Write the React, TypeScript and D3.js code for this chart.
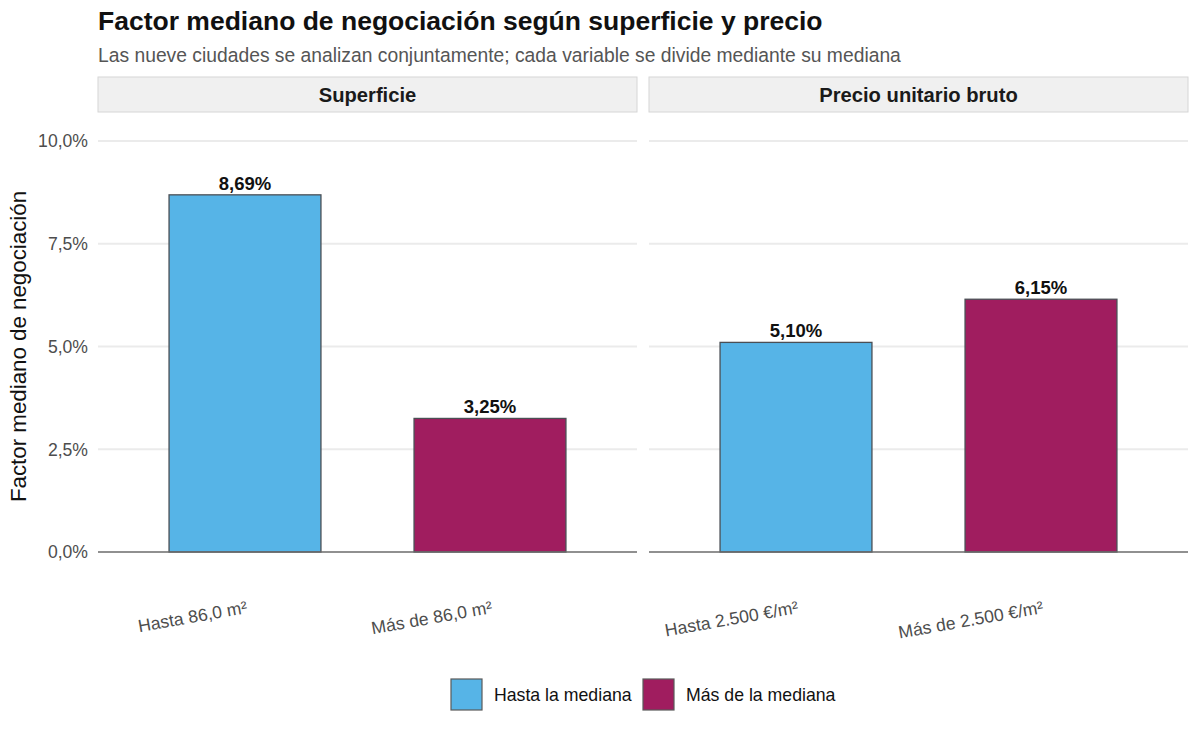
import React from "react";
import * as d3 from "d3";

// data
const facets = ["Superficie", "Precio unitario bruto"];
const categories = [
  ["Hasta 86,0 m²", "Más de 86,0 m²"],
  ["Hasta 2.500 €/m²", "Más de 2.500 €/m²"],
];
const values = [
  [8.69, 3.25],
  [5.1, 6.15],
];
const groups = ["Hasta la mediana", "Más de la mediana"];
const groupColors = ["#56B4E7", "#A01D5F"];
const yTicks = [0, 2.5, 5, 7.5, 10];

const width = 1200;
const height = 733;
const font = "'Liberation Sans', Arial, Helvetica, sans-serif";
const panels = [
  [98, 637],
  [649, 1188],
];

const fmt = (v: number, d: number) => v.toFixed(d).replace(".", ",");

export default function App() {
  const y = d3.scaleLinear().domain([0, 10]).range([552, 141]);
  const color = d3.scaleOrdinal<string>().domain(groups).range(groupColors);

  return (
    <svg
      width={width}
      height={height}
      style={{ position: "absolute", left: 0, top: 0, background: "#fff" }}
      fontFamily={font}
    >
      <text x={98} y={30} fontSize={26.5} fontWeight="bold" fill="#111">
        Factor mediano de negociación según superficie y precio
      </text>
      <text x={98} y={62} fontSize={19.3} fill="#555">
        Las nueve ciudades se analizan conjuntamente; cada variable se divide mediante su mediana
      </text>

      {/* y axis */}
      <text
        transform={`translate(26,${(y(0) + y(10)) / 2}) rotate(-90)`}
        textAnchor="middle"
        fontSize={22.3}
        fill="#111"
      >
        Factor mediano de negociación
      </text>
      {yTicks.map((t) => (
        <text key={t} x={88} y={y(t)} dy="0.36em" textAnchor="end" fontSize={17.6} fill="#4d4d4d">
          {fmt(t, 1)}%
        </text>
      ))}

      {facets.map((f, fi) => {
        const [x0, x1] = panels[fi];
        const x = d3.scalePoint<string>().domain(categories[fi]).range([x0, x1]).padding(0.6);
        const bw = x.step() * 0.62;
        return (
          <g key={f}>
            <rect x={x0} y={77} width={x1 - x0} height={35} fill="#f0f0f0" stroke="#d6d6d6" />
            <text x={(x0 + x1) / 2} y={101.5} textAnchor="middle" fontSize={20.2} fontWeight="bold" fill="#1a1a1a">
              {f}
            </text>
            {yTicks.slice(1).map((t) => (
              <line key={t} x1={x0} x2={x1} y1={y(t)} y2={y(t)} stroke="#ebebeb" strokeWidth={2} />
            ))}
            {categories[fi].map((c, i) => {
              const cx = x(c)!;
              const v = values[fi][i];
              return (
                <g key={c}>
                  <rect
                    x={cx - bw / 2}
                    y={y(v)}
                    width={bw}
                    height={y(0) - y(v)}
                    fill={color(groups[i])}
                    stroke="#4a4f55"
                    strokeWidth={1.3}
                  />
                  <text x={cx} y={y(v) - 5} textAnchor="middle" fontSize={18.5} fontWeight="bold" fill="#111">
                    {fmt(v, 2)}%
                  </text>
                  <text
                    transform={`translate(${cx + 3},${613}) rotate(-10)`}
                    textAnchor="end"
                    fontSize={17.6}
                    fill="#4d4d4d"
                  >
                    {c}
                  </text>
                </g>
              );
            })}
            <line x1={x0} x2={x1} y1={y(0)} y2={y(0)} stroke="#6b6b6b" strokeWidth={1.5} />
          </g>
        );
      })}

      {/* legend */}
      {groups.map((g, i) => {
        const lx = [451, 643][i];
        return (
          <g key={g}>
            <rect x={lx} y={679} width={31} height={31} fill={color(g)} stroke="#5a5a5a" strokeWidth={1.2} />
            <text x={lx + 43} y={701} fontSize={17.7} fill="#111">
              {g}
            </text>
          </g>
        );
      })}
    </svg>
  );
}
